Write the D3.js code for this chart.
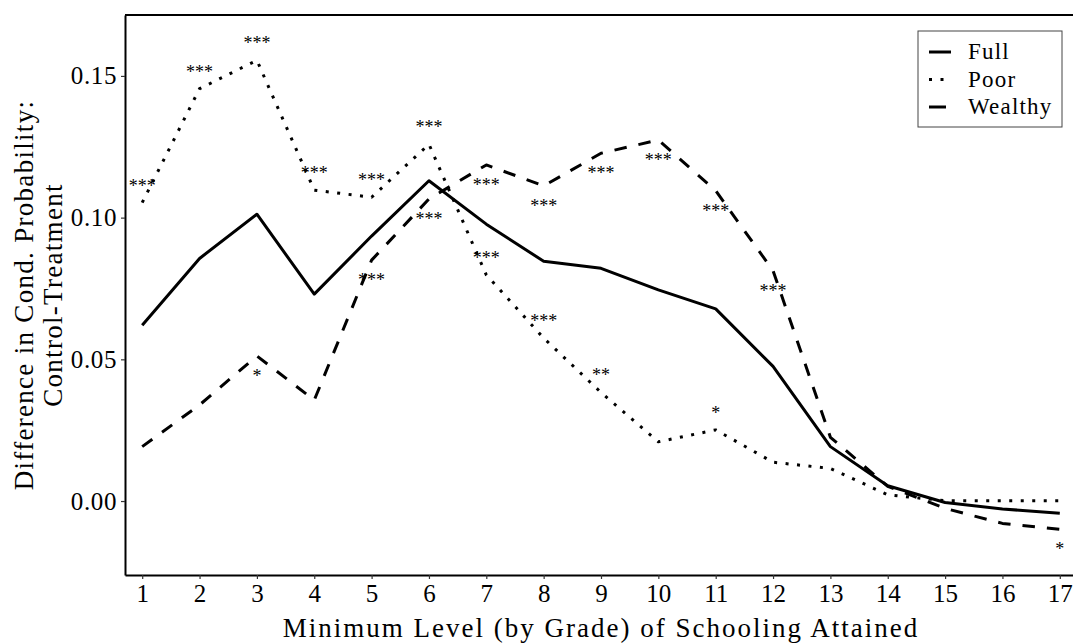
<!DOCTYPE html>
<html>
<head>
<meta charset="utf-8">
<script src="https://cdn.jsdelivr.net/npm/d3@7"></script>
<style>
	body { margin: 0; background: #fff; }
	svg { display: block; font-family: "Liberation Serif", "DejaVu Serif", serif; }
	.axis text { font-family: "Liberation Serif", serif; font-size: 25px; fill: #000; }
	.axis .domain { stroke: #000; stroke-width: 2; }
	.axis .tick line { stroke: #333; stroke-width: 1.2; }
	.star { fill: #000; font-size: 18px; }
</style>
</head>
<body>
<div id="chart"></div>
<script>
var grades = [1, 2, 3, 4, 5, 6, 7, 8, 9, 10, 11, 12, 13, 14, 15, 16, 17];
var full = [0.062, 0.0856, 0.1012, 0.073, 0.0935, 0.113, 0.0977, 0.0846, 0.0821, 0.0745, 0.0678, 0.0475, 0.0192, 0.0054, -0.0005, -0.0028, -0.0043];
var poor = [0.1053, 0.1455, 0.1555, 0.1097, 0.1072, 0.1259, 0.0798, 0.0575, 0.0383, 0.0209, 0.0251, 0.0137, 0.0115, 0.0022, 0.0001, 0.0001, 0.0001];
var wealthy = [0.0192, 0.0339, 0.0512, 0.0356, 0.085, 0.1066, 0.1186, 0.1112, 0.1227, 0.1274, 0.1095, 0.0813, 0.0225, 0.0052, -0.0026, -0.0079, -0.0100];
var poorStars = ["***", "***", "***", "***", "***", "***", "***", "***", "**", "", "*", "", "", "", "", "", ""];
var wealthyStars = ["", "", "*", "", "***", "***", "***", "***", "***", "***", "***", "***", "", "", "", "", "*"];
var yTicks = [0, 0.05, 0.10, 0.15];
var seriesNames = ["Full", "Poor", "Wealthy"];

var W = 1073, H = 644;
var margin = { top: 15, right: -4, bot: 69, left: 125 };

var xSc = d3.scaleLinear().domain([0.7, 17.3]).range([margin.left, W - margin.right]);
var ySc = d3.scaleLinear().domain([-0.0261, 0.1715]).range([H - margin.bot, margin.top]);

// linetypes like ggplot: solid / dotted / dashed
var dashes = { Full: null, Poor: "3,8.5", Wealthy: "12.5,12" };

var svg = d3.select("#chart").append("svg").attr("width", W).attr("height", H);

// top border of panel
svg.append("line")
	.attr("x1", margin.left).attr("x2", W)
	.attr("y1", ySc.range()[1]).attr("y2", ySc.range()[1])
	.attr("stroke", "#000").attr("stroke-width", 2);

svg.append("g").attr("class", "x axis")
	.attr("transform", "translate(0," + ySc.range()[0] + ")")
	.call(d3.axisBottom(xSc).tickValues(grades).tickSize(4).tickSizeOuter(0).tickPadding(5).tickFormat(d3.format("d")));

svg.append("g").attr("class", "y axis")
	.attr("transform", "translate(" + margin.left + ",0)")
	.call(d3.axisLeft(ySc).tickValues(yTicks).tickSize(4).tickSizeOuter(0).tickPadding(4).tickFormat(d3.format(".2f")));
svg.selectAll(".y.axis text").style("letter-spacing", "0.6px");

var line = d3.line()
	.x(function(d, i) { return xSc(grades[i]); })
	.y(function(d) { return ySc(d); });

var series = { Full: full, Poor: poor, Wealthy: wealthy };
seriesNames.forEach(function(name) {
	svg.append("path")
		.datum(series[name])
		.attr("d", line)
		.attr("fill", "none")
		.attr("stroke", "#000")
		.attr("stroke-width", 3)
		.attr("stroke-linejoin", "round")
		.attr("stroke-dasharray", dashes[name]);
});

// significance stars: above Poor, below Wealthy
function stars(vals, labels, off) {
	svg.append("g").selectAll("text")
		.data(labels).enter().append("text")
		.attr("class", "star")
		.attr("x", function(d, i) { return xSc(grades[i]); })
		.attr("y", function(d, i) { return ySc(vals[i]) + off + 9; })
		.attr("text-anchor", "middle")
		.text(function(d) { return d; });
}
stars(poor, poorStars, -20);
stars(wealthy, wealthyStars, 17);

// axis titles
svg.append("text")
	.attr("x", (margin.left + W) / 2 + 2).attr("y", 637)
	.attr("text-anchor", "middle")
	.style("font-size", "27px")
	.style("letter-spacing", "2px")
	.text("Minimum Level (by Grade) of Schooling Attained");

var yTitle = svg.append("text")
	.attr("transform", "translate(0," + 295 + ") rotate(-90)")
	.attr("text-anchor", "middle")
	.style("font-size", "27px")
	.style("letter-spacing", "1.3px");
yTitle.append("tspan").attr("x", 0).attr("y", 33).text("Difference in Cond. Probability:");
yTitle.append("tspan").attr("x", 0).attr("y", 62).text("Control-Treatment");

// legend
var leg = svg.append("g").attr("transform", "translate(918,31)");
leg.append("rect").attr("width", 144).attr("height", 96)
	.attr("fill", "#fff").attr("stroke", "#444").attr("stroke-width", 1);
var legY = d3.scalePoint().domain(seriesNames).range([21, 76]);
seriesNames.forEach(function(name) {
	leg.append("line")
		.attr("x1", 11).attr("x2", name == "Wealthy" ? 28 : 33)
		.attr("y1", legY(name)).attr("y2", legY(name))
		.attr("stroke", "#000").attr("stroke-width", 3)
		.attr("stroke-dasharray", dashes[name] && name == "Poor" ? dashes[name] : null);
	leg.append("text")
		.attr("x", 50).attr("y", legY(name) + 7)
		.style("font-size", "23px")
		.style("letter-spacing", "1.2px")
		.text(name);
});
</script>
</body>
</html>
